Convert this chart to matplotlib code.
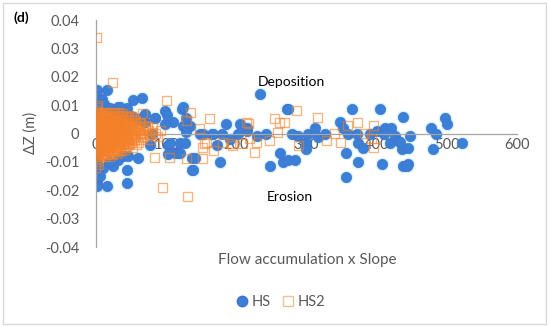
import matplotlib
matplotlib.use("Agg")
import matplotlib.pyplot as plt
from matplotlib.patches import Rectangle
from matplotlib.lines import Line2D

plt.rcParams['font.family'] = ['Lato', 'DejaVu Sans']

# HS series (circles)
hs_x = [1, 16, 3, 8, 2, 12, 5, 20, 31, 44, 53, 65, 38, 50, 60, 70, 28, 34, 53, 67, 84,
        1, 2, 0, 1, 2, 1, 1, 16, 44, 44, 24, 31, 10, 18, 38, 6, 0, 3, 1, 2,
        98, 110, 122, 70, 84, 98, 46, 60, 102, 113, 117, 137, 137, 102, 77, 80, 105, 120, 101,
        124, 129, 134, 124, 148, 165, 179, 191, 202, 215, 229, 243, 234, 272, 172, 141, 138, 177,
        248, 262, 266, 120, 127, 215, 205, 186, 167, 128, 152,
        274, 365, 405, 437, 279, 288, 302, 312, 316, 326, 348, 352, 359, 372, 373, 380, 400,
        412, 421, 426, 419, 430, 436, 300, 300, 273, 283, 357, 373, 357, 407, 437,
        447, 433, 444, 444, 443, 478, 485, 497, 500, 480, 521, 410, 390]
hs_y = [0.0152, 0.0152, 0.013, 0.012, 0.011, 0.0105, 0.009, 0.009, 0.0092, 0.009, 0.0117, 0.0124,
        0.007, 0.006, 0.005, 0.004, 0.008, 0.0092, 0.0057, 0.0057, 0.0053,
        -0.009, -0.011, -0.013, -0.0145, -0.016, -0.0175, -0.0184, -0.0184, -0.013, -0.0173,
        -0.0113, -0.0095, -0.012, -0.010, -0.008, -0.015, 0.005, 0.002, -0.003, -0.006,
        0.0081, 0.0039, 0.0088, 0.007, 0.0053, 0.0035, -0.0078, -0.0088, -0.0042, -0.0067,
        -0.007, -0.0088, -0.013, -0.0071, -0.0042, 0.0, -0.0035, -0.0035, 0.0064,
        0.0092, 0.0053, 0.0028, 0.0028, 0.0, 0.0, 0.0, -0.0018, 0.0, 0.001, -0.0007, 0.0,
        0.0138, 0.0088, -0.0042, -0.0088, -0.013, -0.0102,
        -0.0113, -0.0067, -0.0102, -0.007, -0.0035, 0.0018, 0.0035, 0.0035, 0.0, 0.0005, 0.0,
        0.0088, 0.0088, 0.0088, 0.0057, 0.0, -0.0007, 0.0, 0.0021, -0.0014, 0.0, 0.0039,
        0.0018, 0.0, 0.0, -0.0035, -0.005, 0.001,
        0.0018, 0.0021, -0.0007, -0.0032, -0.0025, -0.0053, -0.0032, -0.0053, -0.0095,
        -0.0095, -0.0067, -0.0102, -0.0155, -0.0106, -0.0113,
        -0.0007, -0.003, -0.005, -0.0106, -0.0113, 0.0021, 0.0, 0.0053, 0.0035, -0.0053,
        -0.0035, 0.0, 0.0]

# HS2 series (open squares): dense group near the origin, one row per dZ level
hs2_rows = [
    (0.0075, [4, 9, 15, 21, 27, 34]),
    (0.007, [2, 6, 11, 17, 23, 30, 38]),
    (0.0065, [0, 3, 7, 12, 18, 24, 31, 37, 46]),
    (0.006, [1, 4, 9, 14, 20, 27, 34, 42, 50]),
    (0.0055, [1, 5, 10, 16, 22, 28, 35, 43, 51]),
    (0.005, [3, 7, 12, 18, 25, 31, 39, 46, 55]),
    (0.0045, [2, 8, 13, 19, 26, 32, 40, 48, 57]),
    (0.004, [0, 5, 10, 15, 21, 28, 35, 43, 52, 62]),
    (0.0035, [0, 4, 10, 16, 22, 29, 37, 45, 54, 64]),
    (0.003, [2, 8, 13, 19, 24, 32, 40, 48, 58, 70]),
    (0.0025, [3, 9, 14, 20, 27, 34, 42, 50, 61, 73]),
    (0.002, [1, 6, 11, 16, 22, 29, 36, 44, 53, 66, 80]),
    (0.0015, [0, 4, 8, 13, 19, 25, 31, 39, 47, 56, 70]),
    (0.001, [3, 9, 14, 20, 26, 33, 41, 49, 60, 75, 92]),
    (0.0005, [2, 7, 12, 15, 21, 28, 35, 43, 52, 64, 80]),
    (0.0, [0, 5, 10, 17, 23, 30, 37, 45, 56, 68, 85]),
    (-0.0005, [0, 4, 9, 14, 20, 27, 34, 42, 50, 62, 76]),
    (-0.001, [2, 7, 12, 18, 25, 32, 39, 47, 57, 72, 88]),
    (-0.0015, [3, 6, 11, 17, 23, 30, 37, 45, 54, 67]),
    (-0.002, [1, 4, 9, 15, 21, 28, 35, 43, 51, 63, 78]),
    (-0.0025, [0, 5, 10, 16, 22, 29, 36, 45, 55]),
    (-0.003, [3, 8, 13, 19, 26, 33, 40, 50, 61]),
    (-0.0035, [2, 7, 12, 18, 25, 32, 39, 48]),
    (-0.004, [0, 6, 11, 17, 24, 31, 38, 46, 58]),
    (-0.0045, [1, 4, 9, 15, 21, 28, 35, 44]),
    (-0.005, [2, 7, 14, 20, 27, 34, 42, 52]),
    (-0.0055, [3, 8, 12, 18, 25, 32, 40]),
    (-0.006, [1, 5, 10, 16, 23, 30, 37]),
    (-0.0065, [0, 7, 13, 19, 26, 33]),
    (-0.007, [3, 9, 15, 22, 29]),
    (-0.0075, [2, 6, 11, 17, 24]),
    (-0.008, [1, 6, 12, 19]),
]
# HS2 scattered points
hs2_x_extra = [1, 2, 0, 1, 2, 0, 3,
               1, 24, 101, 162, 217, 67, 134, 129, 148, 158, 152, 215, 219, 229, 226, 195, 167,
               181, 255, 262, 258, 248, 131, 95, 286, 316, 340, 348, 359, 372, 383, 395, 393, 395,
               329, 288, 269, 84, 105, 155, 152, 209, 191, 129]
hs2_y_extra = [0.009, 0.010, 0.008, -0.009, -0.010, -0.012, -0.011,
               0.0338, 0.018, 0.0117, 0.0053, 0.0035, 0.007, 0.0074, 0.0046, 0.0018, -0.0032,
               -0.005, 0.0039, -0.0018, -0.0032, -0.0067, -0.0042, -0.006,
               -0.0032, 0.0053, 0.0039, 0.0004, -0.0025, -0.0223, -0.019, 0.0081, 0.0057, 0.0,
               -0.0032, 0.0028, 0.0039, 0.0, 0.0028, -0.0018, -0.005,
               -0.0025, -0.0042, 0.0039, -0.0085, -0.0085, -0.0035, -0.0088, -0.0035, -0.0035,
               -0.0088]

x_ticks = [0, 100, 200, 300, 400, 500, 600]
y_ticks = [-0.04, -0.03, -0.02, -0.01, 0, 0.01, 0.02, 0.03, 0.04]
y_tick_labels = ['-0.04', '-0.03', '-0.02', '-0.01', '0', '0.01', '0.02', '0.03', '0.04']

hs2_x = [x for _, xs in hs2_rows for x in xs] + hs2_x_extra
hs2_y = [y for y, xs in hs2_rows for _ in xs] + hs2_y_extra

blue = '#3A80D6'
orange = '#F4812A'
grey_text = '#595959'
axis_grey = '#A6A6A6'

fig = plt.figure(figsize=(5.5, 3.27), dpi=100)
ax = fig.add_axes([0.1745, 0.2446, 0.7655, 0.6942])

# faint cyan glow behind circles
ax.scatter(hs_x, hs_y, s=95, marker='o', color='#D2F6FA', linewidths=0, zorder=1)
ax.scatter(hs_x, hs_y, s=55, marker='o', facecolor=blue, edgecolor='#4A6FD0',
           linewidths=0.5, zorder=2)
ax.scatter(hs2_x, hs2_y, s=42, marker='s', facecolor='none', edgecolor=orange,
           linewidths=0.95, alpha=0.6, zorder=3)

ax.set_xlim(0, 600)
ax.set_ylim(-0.04, 0.04)
ax.spines['left'].set_position(('data', 0))
ax.spines['bottom'].set_position(('data', 0))
ax.spines['top'].set_visible(False)
ax.spines['right'].set_visible(False)
for s in ('left', 'bottom'):
    ax.spines[s].set_color(axis_grey)
    ax.spines[s].set_linewidth(0.9)
ax.set_xticks(x_ticks)
ax.set_yticks(y_ticks)
ax.set_yticklabels(y_tick_labels)
ax.tick_params(length=0, labelsize=10.5, colors=grey_text, pad=12)
ax.tick_params(axis='x', pad=3)
ax.patch.set_visible(False)

ax.text(278, 0.018, 'Deposition', fontsize=10, color='black', ha='center', va='center')
ax.text(276, -0.0222, 'Erosion', fontsize=10, color='black', ha='center', va='center')

fig.text(0.056, 0.593, 'ΔZ (m)', rotation=90, fontsize=10.5, color=grey_text,
         ha='center', va='center')
fig.text(0.558, 0.205, 'Flow accumulation x Slope', fontsize=11, color=grey_text,
         ha='center', va='center')
fig.text(0.024, 0.945, '(d)', fontsize=10, fontweight='bold', color='black',
         ha='left', va='center')

handles = [Line2D([], [], marker='o', linestyle='none', markerfacecolor=blue,
                  markeredgecolor='#4A6FD0', markersize=7.5),
           Line2D([], [], marker='s', linestyle='none', markerfacecolor='none',
                  markeredgecolor='#E8C49A', markersize=7)]
fig.legend(handles, ['HS', 'HS2'], loc='center', bbox_to_anchor=(0.508, 0.077), ncol=2,
           frameon=False, fontsize=10.5, labelcolor=grey_text, handletextpad=0.05,
           columnspacing=0.6, handlelength=1.2)

fig.patches.append(Rectangle((0.005, 0.008), 0.988, 0.984, transform=fig.transFigure,
                             fill=False, edgecolor='#D9D9D9', linewidth=1))

fig.savefig('out.png', dpi=100)
